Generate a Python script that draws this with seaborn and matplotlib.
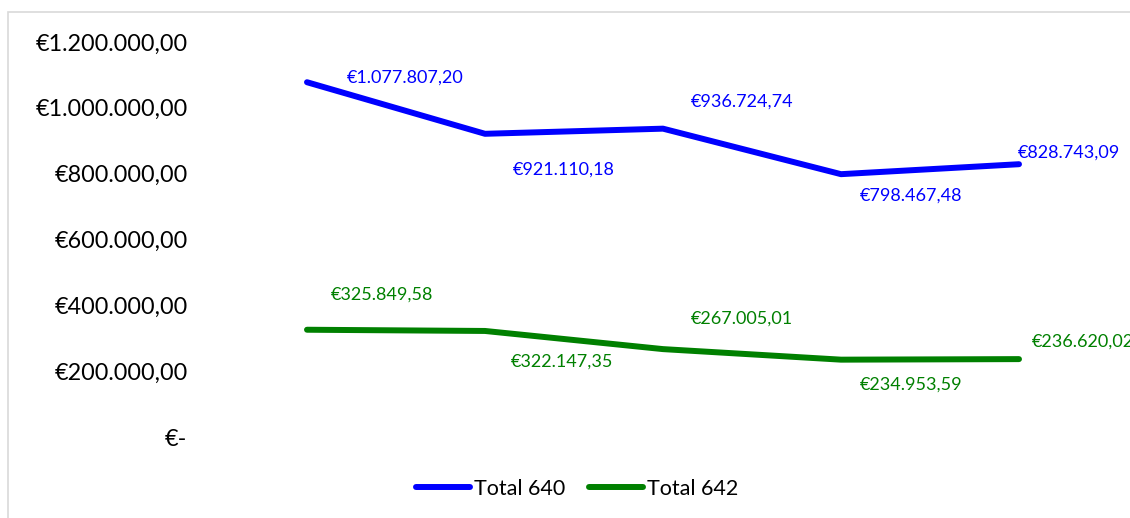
import pandas as pd
import matplotlib.pyplot as plt
import seaborn as sns
from matplotlib.patches import Rectangle
from matplotlib.ticker import FuncFormatter

# chart values
periods = [1, 2, 3, 4, 5]
total_640 = [1077807.20, 921110.18, 936724.74, 798467.48, 828743.09]
total_642 = [325849.58, 322147.35, 267005.01, 234953.59, 236620.02]
series_names = ['Total 640', 'Total 642']
y_ticks = [0, 200000, 400000, 600000, 800000, 1000000, 1200000]


def euro(v):
    if v == 0:
        return '€-'
    s = f'{v:,.2f}'.replace(',', 'X').replace('.', ',').replace('X', '.')
    return '€' + s


df = pd.DataFrame({
    'period': periods * 2,
    'value': total_640 + total_642,
    'series': [series_names[0]] * 5 + [series_names[1]] * 5,
})

sns.set_style("white")
plt.rcParams['font.family'] = ['Lato', 'DejaVu Sans']
plt.rcParams['text.color'] = 'black'
plt.rcParams['ytick.color'] = 'black'

fig = plt.figure(figsize=(11.3, 5.18), dpi=100)
ax = fig.add_axes([218 / 1130, 1 - 437 / 518, (1108 - 218) / 1130, (437 - 42) / 518])

colors = {'Total 640': '#0000FF', 'Total 642': '#008000'}
sns.lineplot(data=df, x='period', y='value', hue='series', palette=colors,
             linewidth=4.3, ax=ax, legend=True, solid_capstyle='round')

ax.set_xlim(0.5, 5.5)
ax.set_ylim(0, 1200000)
ax.set_yticks(y_ticks)
ax.yaxis.set_major_formatter(FuncFormatter(lambda v, p: euro(v)))
ax.set_xticks([])
ax.tick_params(axis='y', length=0, pad=22, labelsize=16.8, labelcolor='black')
ax.set_xlabel('')
ax.set_ylabel('')
for sp in ax.spines.values():
    sp.set_visible(False)

# label offsets in pixels (dx right, dy up)
offsets_640 = [(98, 5), (79, -36), (79, 27), (70, -21), (50, 12)]
offsets_642 = [(75, 35), (77, -31), (79, 30), (70, -25), (64, 17)]
for vals, offs, name in [(total_640, offsets_640, 'Total 640'),
                         (total_642, offsets_642, 'Total 642')]:
    for x, v, (dx, dy) in zip(periods, vals, offs):
        ax.annotate(euro(v), (x, v), xytext=(dx, dy), textcoords='offset pixels',
                    ha='center', va='center', fontsize=13, color=colors[name],
                    annotation_clip=False)

ax.legend_.remove()
handles, labels = ax.get_legend_handles_labels()
for h in handles:
    h.set_solid_capstyle('round')
fig.legend(handles, labels, loc='center', bbox_to_anchor=(577 / 1130, 1 - 489 / 518),
           ncol=2, frameon=False, fontsize=15.5, handlelength=2.5,
           handletextpad=0.2, columnspacing=1.1)

fig.add_artist(Rectangle((8 / 1130, -0.05), 1.2, 1 - 12 / 518 + 0.05,
                         transform=fig.transFigure, fill=False,
                         edgecolor='#d9d9d9', linewidth=1.2))

fig.savefig('out.png', dpi=100)
